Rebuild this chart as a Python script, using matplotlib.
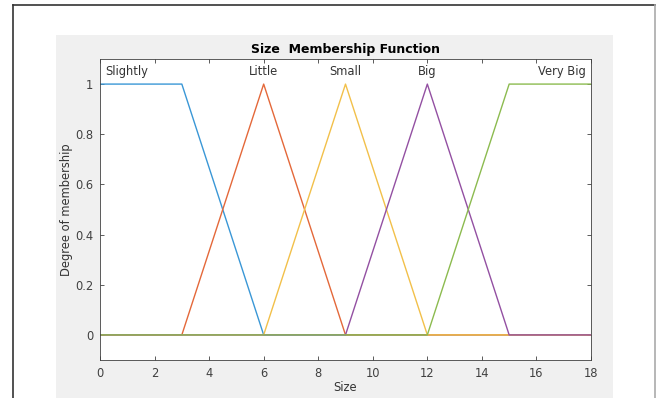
import matplotlib.pyplot as plt
from matplotlib.lines import Line2D
from matplotlib.patches import Rectangle
import numpy as np

# membership function breakpoints (Size universe 0..18)
names = ['Slightly', 'Little', 'Small', 'Big', 'Very Big']
mf_x = [[0, 3, 6, 18],
        [0, 3, 6, 9, 18],
        [0, 6, 9, 12, 18],
        [0, 9, 12, 15, 18],
        [0, 12, 15, 18]]
mf_y = [[1, 1, 0, 0],
        [0, 0, 1, 0, 0],
        [0, 0, 1, 0, 0],
        [0, 0, 1, 0, 0],
        [0, 0, 1, 1]]
label_x = [0.2, 6, 9, 12, 17.8]
colores = ['#3A97D6', '#E4683A', '#F2C04A', '#9350A2', '#8CBB4F']

W, H = 656, 398
fig = plt.figure(figsize=(W / 100, H / 100), dpi=100, facecolor='white')

# gray matlab figure panel and the outer frame
fig.add_artist(Rectangle((56 / W, 0), (613 - 56) / W, (H - 35) / H,
                         transform=fig.transFigure, facecolor='#F0F0F0',
                         edgecolor='none', zorder=0))
fig.add_artist(Line2D([13 / W, 1], [1 - 5 / H, 1 - 5 / H], transform=fig.transFigure,
                      color='#333333', lw=1.2))
fig.add_artist(Line2D([13 / W, 13 / W], [0, 1 - 5 / H], transform=fig.transFigure,
                      color='#333333', lw=1.2))
fig.add_artist(Line2D([654.5 / W, 654.5 / W], [0, 1 - 5 / H], transform=fig.transFigure,
                      color='#AAAAAA', lw=1.2))

ax = fig.add_axes([100 / W, 1 - 360 / H, (591 - 100) / W, (360 - 59) / H])
ax.set_facecolor('white')

for i in range(len(names)):
    ax.plot(mf_x[i], mf_y[i], color=colores[i], lw=1.0)
    if i == 0:
        ha = 'left'
    elif i == len(names) - 1:
        ha = 'right'
    else:
        ha = 'center'
    ax.text(label_x[i], 1.05, names[i], ha=ha, va='center', fontsize=8.3, color='#333333')

ax.set_xlim(0, 18)
ax.set_ylim(-0.1, 1.1)
ax.set_xticks(np.arange(0, 19, 2))
ax.set_yticks([0, 0.2, 0.4, 0.6, 0.8, 1])
ax.set_yticklabels(['0', '0.2', '0.4', '0.6', '0.8', '1'])
ax.tick_params(direction='in', top=True, right=True, length=3, width=0.6,
               labelsize=8.3, colors='#404040', pad=5)
for s in ax.spines.values():
    s.set_color('#404040')
    s.set_linewidth(0.6)

ax.set_xlabel('Size', fontsize=8.3, color='#333333', labelpad=1)
ax.set_ylabel('Degree of membership', fontsize=8.3, color='#333333', labelpad=1)
ax.set_title('Size  Membership Function', fontsize=9, fontweight='bold', pad=4)

plt.savefig('out.png', dpi=100, facecolor='white')
